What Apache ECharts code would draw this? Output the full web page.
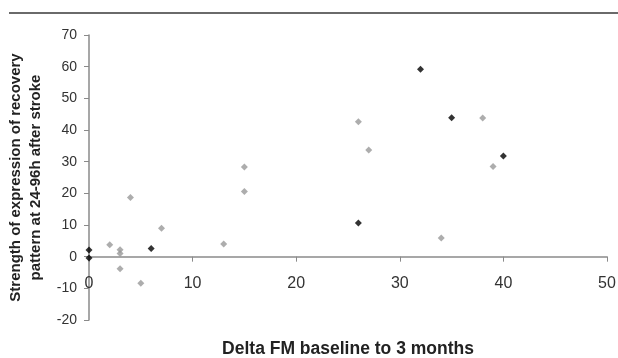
<!DOCTYPE html>
<html>
<head>
<meta charset="utf-8">
<script src="https://cdn.jsdelivr.net/npm/echarts@6/dist/echarts.min.js"></script>
<style>
  html, body { margin: 0; padding: 0; background: #fff; }
  #chart { width: 618px; height: 358px; }
</style>
</head>
<body>
<div id="chart"></div>
<script>
// grey diamonds
const greyX = [2, 3, 3, 3, 4, 5, 7, 13, 15, 15, 26, 27, 34, 38, 39]
const greyY = [3.8, 2.2, 1.0, -3.8, 18.7, -8.4, 9.0, 4.0, 28.3, 20.6, 42.6, 33.7, 5.9, 43.8, 28.5]
// black diamonds
const blackX = [0, 0, 6, 26, 32, 35, 40]
const blackY = [2.1, -0.4, 2.6, 10.6, 59.2, 43.9, 31.8]

const xTicks = [0, 10, 20, 30, 40, 50]
const yTicks = [-20, -10, 0, 10, 20, 30, 40, 50, 60, 70]

const xTitle = 'Delta FM baseline to 3 months'
const yTitle = 'Strength of expression of recovery\npattern at 24-96h after stroke'

const zip = (xs, ys) => xs.map((x, i) => [x, ys[i]])

const chart = echarts.init(document.getElementById('chart'))
const font = 'Liberation Sans, Arial, sans-serif'
const axisColor = '#8a8a8a'

const grid = { left: 89, right: 11, top: 35, bottom: 38 }
const yMin = yTicks[0]
const yMax = yTicks[yTicks.length - 1]
// x axis sits on y = 0 (Excel style), labels follow it
const plotH = 358 - grid.top - grid.bottom
const xAxisOffset = -plotH * (0 - yMin) / (yMax - yMin)

chart.setOption({
  animation: false,
  grid: { ...grid, containLabel: false, outerBoundsMode: 'none' },
  graphic: [
    {
      type: 'line',
      shape: { x1: 9, y1: 13, x2: 618, y2: 13 },
      style: { stroke: '#6a6a6a', lineWidth: 2 },
    },
  ],
  xAxis: {
    type: 'value',
    min: xTicks[0],
    max: xTicks[xTicks.length - 1],
    interval: 10,
    position: 'bottom',
    offset: xAxisOffset,
    axisLine: { onZero: false, lineStyle: { color: axisColor, width: 1.5 } },
    axisTick: { show: true, inside: false, length: 5, lineStyle: { color: axisColor } },
    axisLabel: { margin: 19, color: '#333', fontSize: 16, fontFamily: font },
    splitLine: { show: false },
    name: xTitle,
    nameLocation: 'middle',
    nameGap: 84,
    nameTextStyle: { fontWeight: 'bold', fontSize: 17.5, color: '#222', fontFamily: font },
  },
  yAxis: {
    type: 'value',
    min: yMin,
    max: yMax,
    interval: 10,
    axisLine: { show: true, onZero: false, lineStyle: { color: axisColor, width: 1.5 } },
    axisTick: { show: true, length: 5, lineStyle: { color: axisColor } },
    axisLabel: { margin: 12, color: '#333', fontSize: 14, fontFamily: font },
    splitLine: { show: false },
    name: yTitle,
    nameLocation: 'middle',
    nameRotate: 90,
    nameGap: 43,
    nameTextStyle: { fontWeight: 'bold', fontSize: 15, color: '#222', fontFamily: font, lineHeight: 20 },
  },
  series: [
    {
      type: 'scatter',
      symbol: 'diamond',
      symbolSize: 7,
      itemStyle: { color: '#999' },
      data: zip(greyX, greyY),
    },
    {
      type: 'scatter',
      symbol: 'diamond',
      symbolSize: 7,
      itemStyle: { color: '#000' },
      data: zip(blackX, blackY),
    },
  ],
})
</script>
</body>
</html>
